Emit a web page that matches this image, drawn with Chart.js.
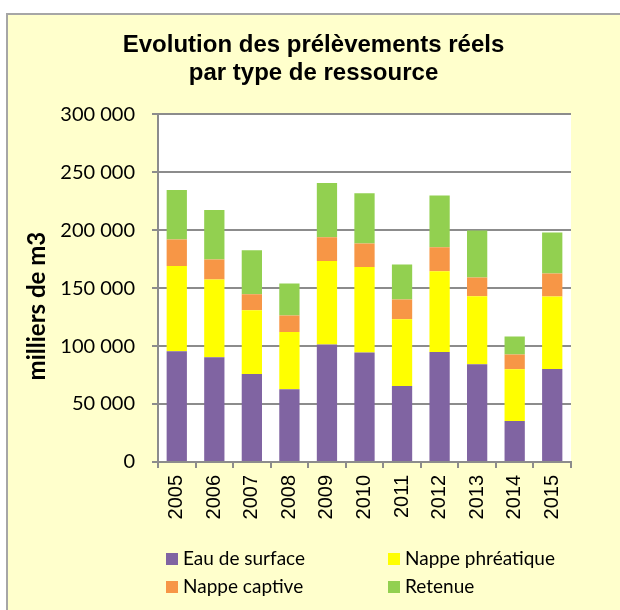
<!DOCTYPE html>
<html>

<head>
  <title>Evolution des prélèvements réels</title>
  <script src="https://cdn.jsdelivr.net/npm/chart.js"></script>
  <style>
    body {
      margin: 0;
      background: #ffffff;
    }

    #chartContainer {
      width: 620px;
      height: 610px;
    }
  </style>
</head>

<body>
  <div id="chartContainer">
    <canvas id="myChart"></canvas>
  </div>

  <script>
    // values (milliers de m3)
    const years = ['2005', '2006', '2007', '2008', '2009', '2010', '2011', '2012', '2013', '2014', '2015'];
    const eauSurface = [95500, 90300, 75900, 62700, 101300, 94400, 65600, 94900, 84300, 35400, 80200];
    const nappePhreatique = [73600, 67100, 55000, 49500, 72100, 73800, 57500, 69600, 58700, 44600, 62500];
    const nappeCaptive = [22800, 17200, 13800, 14100, 20500, 20200, 17000, 20700, 16100, 12700, 19800];
    const retenue = [42800, 42800, 38000, 27600, 46800, 43400, 30200, 44600, 40500, 15500, 35400];
    const yTicks = [0, 50000, 100000, 150000, 200000, 250000, 300000];
    const yTitle = 'milliers de m3';

    const frame = {
      id: 'frame',
      beforeDraw(chart) {
        const ctx = chart.ctx;
        const a = chart.chartArea;
        ctx.save();
        ctx.fillStyle = '#ffffff';
        ctx.fillRect(0, 0, chart.width, chart.height);
        ctx.fillStyle = '#FFFFCC';
        ctx.fillRect(6, 13, chart.width, chart.height);
        ctx.fillStyle = '#A6A6A6';
        ctx.fillRect(6, 13, 2, chart.height);
        ctx.fillRect(6, 13, chart.width, 2);
        ctx.fillStyle = '#ffffff';
        ctx.fillRect(a.left, a.top, a.right - a.left, a.bottom - a.top);
        ctx.restore();
      }
    };

    // y axis title, sits a little below the middle of the axis
    const axisTitle = {
      id: 'axisTitle',
      afterDraw(chart) {
        const ctx = chart.ctx;
        const a = chart.chartArea;
        ctx.save();
        ctx.translate(37, (a.top + a.bottom) / 2 + 18);
        ctx.rotate(-Math.PI / 2);
        ctx.font = 'bold 24px Lato';
        ctx.fillStyle = '#000000';
        ctx.textAlign = 'center';
        ctx.textBaseline = 'middle';
        ctx.fillText(yTitle, 0, 0);
        ctx.restore();
      }
    };

    // 2 x 2 legend under the chart
    const gridLegend = {
      id: 'gridLegend',
      afterDraw(chart) {
        const ctx = chart.ctx;
        const a = chart.chartArea;
        const cols = [a.left + 8, a.left + 230];
        const rows = [chart.height - 51, chart.height - 23];
        ctx.save();
        ctx.font = '19px Lato';
        ctx.textBaseline = 'middle';
        chart.data.datasets.forEach((ds, i) => {
          const x = cols[i % 2];
          const y = rows[Math.floor(i / 2)];
          ctx.fillStyle = ds.backgroundColor;
          ctx.fillRect(x, y - 6, 12, 12);
          ctx.fillStyle = '#000000';
          ctx.fillText(ds.label, x + 17, y);
        });
        ctx.restore();
      }
    };

    const ctx = document.getElementById('myChart').getContext('2d');
    new Chart(ctx, {
      type: 'bar',
      data: {
        labels: years,
        datasets: [
          { label: 'Eau de surface', data: eauSurface, backgroundColor: '#8064A2' },
          { label: 'Nappe phréatique', data: nappePhreatique, backgroundColor: '#FFFF00' },
          { label: 'Nappe captive', data: nappeCaptive, backgroundColor: '#F79646' },
          { label: 'Retenue', data: retenue, backgroundColor: '#92D050' }
        ]
      },
      options: {
        responsive: true,
        maintainAspectRatio: false,
        animation: false,
        layout: {
          padding: { left: 7, right: 0, top: 0, bottom: 88 }
        },
        datasets: {
          bar: {
            barPercentage: 0.54,
            categoryPercentage: 1
          }
        },
        scales: {
          x: {
            stacked: true,
            afterFit: (scale) => {
              scale.height = 60;
              // keep the plot clear of the right side without moving the title
              scale.paddingRight = 49;
            },
            grid: {
              drawOnChartArea: false,
              color: '#8C8C8C',
              lineWidth: 2,
              tickLength: 6
            },
            border: { color: '#8C8C8C', width: 2 },
            ticks: {
              minRotation: 90,
              maxRotation: 90,
              padding: 7,
              color: '#000000',
              font: { family: 'Liberation Sans', size: 20 }
            }
          },
          y: {
            stacked: true,
            min: 0,
            max: 300000,
            afterFit: (scale) => { scale.width = 151; },
            afterBuildTicks: (scale) => { scale.ticks = yTicks.map(v => ({ value: v })); },
            grid: {
              color: '#8C8C8C',
              lineWidth: 2,
              tickLength: 6
            },
            border: { color: '#8C8C8C', width: 2 },
            ticks: {
              padding: 17,
              color: '#000000',
              font: { family: 'Lato', size: 20 },
              callback: (v) => String(v).replace(/\B(?=(\d{3})+(?!\d))/g, ' ')
            }
          }
        },
        plugins: {
          legend: { display: false },
          tooltip: { enabled: false },
          title: {
            display: true,
            text: ['Evolution des prélèvements réels', 'par type de ressource'],
            color: '#000000',
            padding: { top: 32, bottom: 27 },
            font: { family: 'Liberation Sans', size: 24, weight: 'bold', lineHeight: 1.15 }
          }
        }
      },
      plugins: [frame, axisTitle, gridLegend]
    });
  </script>
</body>

</html>
